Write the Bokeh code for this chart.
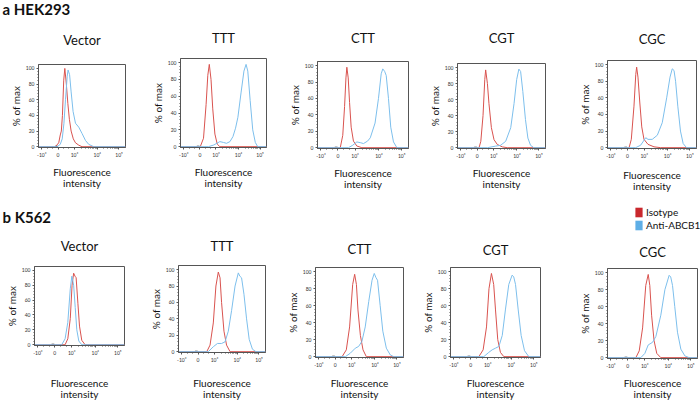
import math
from bokeh.plotting import figure
from bokeh.models import FixedTicker, Legend, LegendItem, Range1d, Title, Label
from bokeh.layouts import row, column
from bokeh.embed import file_html
from bokeh.resources import INLINE

# ---------------- data (x in display units of the biexponential axis) ----------------
samples = ["Vector", "TTT", "CTT", "CGT", "CGC"]
x_tick_pos = [-0.75, 0, 0.75, 1.8, 2.8]
x_tick_labels = ["-10³", "0", "10³", "10⁴", "10⁵"]
y_tick_pos = [0, 20, 40, 60, 80, 100]
pile_x = [-0.14, -0.02]          # events piled up at zero
pile_y = [0, 0]

# HEK293
hek_vector_iso_x = [-0.9, -0.12, 0.03, 0.1, 0.15, 0.2, 0.26, 0.31, 0.38, 0.45, 0.52, 0.6, 0.7, 0.8, 0.95, 1.1, 3.1]
hek_vector_iso_y = [0, 0, 5, 15, 20, 40, 85, 100, 80, 55, 35, 20, 10, 5, 2, 0, 0]
hek_vector_ab_x = [-0.9, -0.04, 0.1, 0.19, 0.27, 0.34, 0.42, 0.46, 0.53, 0.6, 0.69, 0.8, 0.95, 1.1, 1.26, 1.41, 1.64, 3.1]
hek_vector_ab_y = [0, 0, 3, 10, 30, 60, 90, 98, 92, 70, 45, 30, 25, 17, 8, 3, 0, 0]

hek_ttt_iso_x = [-0.9, 0.02, 0.17, 0.29, 0.37, 0.44, 0.52, 0.6, 0.7, 0.81, 0.93, 3.1]
hek_ttt_iso_y = [0, 0, 10, 50, 85, 98, 80, 45, 15, 3, 0, 0]
hek_ttt_ab_x = [-0.9, 0.4, 0.65, 0.93, 1.1, 1.24, 1.4, 1.54, 1.66, 1.77, 1.92, 2.05, 2.15, 2.23, 2.34, 2.46, 2.58, 2.69, 3.1]
hek_ttt_ab_y = [0, 0, 2, 6, 5, 4, 6, 12, 22, 35, 65, 90, 98, 90, 55, 20, 5, 0, 0]

hek_ctt_iso_x = [-0.9, 0.1, 0.21, 0.29, 0.35, 0.39, 0.45, 0.51, 0.58, 0.68, 0.83, 1.05, 3.1]
hek_ctt_iso_y = [0, 0, 15, 50, 85, 98, 85, 55, 25, 8, 2, 0, 0]
hek_ctt_ab_x = [-0.9, 0.46, 0.65, 0.83, 1.0, 1.12, 1.3, 1.42, 1.63, 1.78, 1.9, 1.97, 2.05, 2.12, 2.22, 2.32, 2.44, 2.59, 3.1]
hek_ctt_ab_y = [0, 0, 3, 7, 6, 5, 8, 12, 30, 60, 90, 96, 93, 88, 60, 25, 7, 0, 0]

hek_cgt_iso_x = [-0.9, 0.08, 0.16, 0.26, 0.34, 0.38, 0.46, 0.53, 0.64, 0.76, 0.91, 1.14, 1.36, 3.1]
hek_cgt_iso_y = [0, 0, 8, 40, 85, 97, 80, 55, 25, 10, 4, 1, 0, 0]
hek_cgt_ab_x = [-0.9, 0.46, 0.84, 1.06, 1.29, 1.52, 1.67, 1.79, 1.89, 1.97, 2.07, 2.19, 2.3, 2.42, 2.57, 3.1]
hek_cgt_ab_y = [0, 0, 2, 3, 8, 25, 55, 85, 98, 95, 70, 35, 12, 3, 0, 0]

hek_cgc_iso_x = [-0.9, 0.07, 0.17, 0.29, 0.37, 0.41, 0.47, 0.55, 0.64, 0.74, 0.92, 1.19, 1.49, 3.1]
hek_cgc_iso_y = [0, 0, 10, 50, 88, 97, 85, 55, 25, 10, 4, 1, 0, 0]
hek_cgc_ab_x = [-0.9, 0.37, 0.59, 0.82, 0.92, 1.11, 1.34, 1.56, 1.76, 1.91, 2.01, 2.09, 2.16, 2.26, 2.38, 2.5, 2.65, 3.1]
hek_cgc_ab_y = [0, 0, 3, 12, 10, 10, 15, 30, 60, 85, 95, 93, 80, 50, 20, 5, 0, 0]

# K562
k562_vector_iso_x = [-0.9, 0.46, 0.58, 0.69, 0.77, 0.84, 0.9, 0.95, 1.03, 1.1, 1.2, 1.35, 3.1]
k562_vector_iso_y = [0, 0, 8, 35, 80, 96, 92, 90, 55, 25, 6, 0, 0]
k562_vector_ab_x = [-0.9, 0.31, 0.46, 0.58, 0.69, 0.76, 0.84, 0.91, 0.98, 1.07, 1.2, 3.1]
k562_vector_ab_y = [0, 0, 8, 30, 75, 92, 80, 50, 20, 5, 0, 0]

k562_ttt_iso_x = [-0.9, 0.4, 0.55, 0.7, 0.82, 0.93, 1.01, 1.08, 1.19, 1.31, 1.47, 3.1]
k562_ttt_iso_y = [0, 0, 8, 35, 80, 97, 90, 60, 25, 8, 0, 0]
k562_ttt_ab_x = [-0.9, 0.47, 0.7, 0.89, 1.08, 1.24, 1.39, 1.54, 1.7, 1.85, 1.92, 2.0, 2.11, 2.23, 2.35, 2.5, 2.66, 3.1]
k562_ttt_ab_y = [0, 0, 6, 10, 10, 12, 25, 50, 80, 96, 92, 90, 70, 40, 15, 3, 0, 0]

k562_ctt_iso_x = [-0.9, 0.31, 0.5, 0.65, 0.79, 0.88, 0.96, 1.03, 1.14, 1.26, 1.41, 3.1]
k562_ctt_iso_y = [0, 0, 8, 35, 85, 97, 85, 55, 25, 8, 0, 0]
k562_ctt_ab_x = [-0.9, 0.46, 0.68, 0.91, 1.06, 1.21, 1.36, 1.52, 1.67, 1.77, 1.85, 1.92, 2.04, 2.16, 2.32, 2.5, 2.65, 3.1]
k562_ctt_ab_y = [0, 0, 4, 10, 12, 18, 35, 65, 90, 98, 93, 90, 60, 30, 10, 2, 0, 0]

k562_cgt_iso_x = [-0.9, 0.36, 0.55, 0.7, 0.81, 0.92, 1.02, 1.1, 1.2, 1.32, 1.47, 3.1]
k562_cgt_iso_y = [0, 0, 8, 35, 80, 98, 85, 55, 20, 5, 0, 0]
k562_cgt_ab_x = [-0.9, 0.58, 0.8, 0.95, 1.1, 1.25, 1.4, 1.54, 1.69, 1.84, 1.91, 1.99, 2.11, 2.24, 2.39, 2.58, 3.1]
k562_cgt_ab_y = [0, 0, 5, 8, 10, 12, 25, 55, 85, 96, 94, 85, 55, 25, 7, 0, 0]

k562_cgc_iso_x = [-0.9, 0.36, 0.51, 0.66, 0.8, 0.91, 0.98, 1.06, 1.17, 1.29, 1.47, 3.1]
k562_cgc_iso_y = [0, 0, 8, 35, 85, 98, 85, 50, 20, 5, 0, 0]
k562_cgc_ab_x = [-0.9, 0.58, 0.76, 0.91, 1.1, 1.25, 1.47, 1.65, 1.84, 1.91, 1.99, 2.09, 2.21, 2.36, 2.54, 2.73, 3.1]
k562_cgc_ab_y = [0, 0, 5, 15, 18, 25, 50, 80, 97, 95, 85, 60, 30, 10, 2, 0, 0]

hek_curves = [
    (hek_vector_iso_x, hek_vector_iso_y, hek_vector_ab_x, hek_vector_ab_y),
    (hek_ttt_iso_x, hek_ttt_iso_y, hek_ttt_ab_x, hek_ttt_ab_y),
    (hek_ctt_iso_x, hek_ctt_iso_y, hek_ctt_ab_x, hek_ctt_ab_y),
    (hek_cgt_iso_x, hek_cgt_iso_y, hek_cgt_ab_x, hek_cgt_ab_y),
    (hek_cgc_iso_x, hek_cgc_iso_y, hek_cgc_ab_x, hek_cgc_ab_y),
]
k562_curves = [
    (k562_vector_iso_x, k562_vector_iso_y, k562_vector_ab_x, k562_vector_ab_y),
    (k562_ttt_iso_x, k562_ttt_iso_y, k562_ttt_ab_x, k562_ttt_ab_y),
    (k562_ctt_iso_x, k562_ctt_iso_y, k562_ctt_ab_x, k562_ctt_ab_y),
    (k562_cgt_iso_x, k562_cgt_iso_y, k562_cgt_ab_x, k562_cgt_ab_y),
    (k562_cgc_iso_x, k562_cgc_iso_y, k562_cgc_ab_x, k562_cgc_ab_y),
]
legend_labels = ["Isotype", "Anti-ABCB1"]

# ---------------- styling / layout (page pixels) ----------------
FONT = "Lato"
RED = "#d9534f"
BLUE = "#7dbfec"
LEG_RED = "#c9282d"
LEG_BLUE = "#5eaee6"
FRAME = "#555555"
TITLE_PX = 13
HEAD_PX = 15

# (fig_left, fig_right, fig_top, fig_bottom, frame_left, frame_right, frame_top, frame_bottom, title_y, xlabel_standoff)
row_a_layout = [
    (0, 140, 0, 195, 38, 125, 62, 147, 38, 5),
    (140, 280, 0, 195, 180, 266, 58, 147, 38, 5),
    (280, 420, 0, 195, 317, 408, 61, 148, 38, 5),
    (420, 560, 0, 195, 457, 545, 63, 148, 38, 5),
    (560, 700, 0, 195, 607, 696, 60, 148, 39, 7),
]
row_b_layout = [
    (0, 140, 224, 402, 34, 124, 265, 345, 245, 18),
    (140, 280, 195, 402, 178, 265, 265, 352, 246, 11),
    (280, 415, 195, 402, 315, 403, 267, 357, 249, 6),
    (415, 560, 195, 402, 450, 540, 267, 357, 250, 6),
    (560, 700, 232, 402, 607, 697, 268, 358, 252, 5),
]
header_b_box = (0, 140, 195, 224)      # cell above the first K562 panel
legend_box = (560, 700, 195, 232)      # cell above the last K562 panel
legend_frame_left, legend_frame_top = 634, 206

x_minor = []
for k in range(2, 10):
    x_minor.append(0.75 + 1.05 * math.log10(k))
    x_minor.append(1.8 + 1.0 * math.log10(k))
x_minor += [-0.5, -0.25, 0.25, 0.5]
y_minor = [v for v in range(0, 101, 4) if v % 20]


def title_standoff(frame_top, title_y):
    return 2 * (frame_top - title_y) - 1.2 * TITLE_PX


def make_panel(name, curves, lay):
    fl_, fr_, ft_, fb_, xl, xr, yt, yb, ty, xls = lay
    iso_x, iso_y, ab_x, ab_y = curves
    p = figure(width=fr_ - fl_, height=fb_ - ft_,
               x_range=Range1d(-0.9, 3.1), y_range=Range1d(-1, 105),
               output_backend="svg", toolbar_location=None, title=None,
               min_border_left=xl - fl_, min_border_right=fr_ - xr,
               min_border_top=yt - ft_, min_border_bottom=fb_ - yb)
    p.frame_align = False
    p.grid.visible = False
    p.outline_line_color = FRAME
    p.outline_line_width = 1

    p.add_layout(Title(text=name, align="center", vertical_align="bottom",
                       standoff=title_standoff(yt, ty), text_font=FONT,
                       text_font_size=f"{TITLE_PX}px", text_font_style="normal",
                       text_color="#111111"), "above")

    xa = p.xaxis[0]
    xa.ticker = FixedTicker(ticks=x_tick_pos, minor_ticks=x_minor)
    xa.major_label_overrides = dict(zip(x_tick_pos, x_tick_labels))
    xa.major_label_text_font_size = "5px"
    xa.major_label_standoff = 2
    xa.axis_label = "Fluorescence\nintensity"
    xa.axis_label_text_font = FONT
    xa.axis_label_text_font_size = "10px"
    xa.axis_label_text_font_style = "normal"
    xa.axis_label_text_color = "#111111"
    xa.axis_label_text_line_height = 0.92
    xa.axis_label_standoff = xls

    ya = p.yaxis[0]
    ya.ticker = FixedTicker(ticks=y_tick_pos, minor_ticks=y_minor)
    ya.axis_label = "% of max"
    ya.axis_label_text_font = FONT
    ya.axis_label_text_font_size = "10px"
    ya.axis_label_text_font_style = "normal"
    ya.axis_label_text_color = "#111111"
    ya.axis_label_standoff = 1
    ya.major_label_text_font_size = "5px"
    ya.major_label_standoff = 2

    for ax in (xa, ya):
        ax.axis_line_color = FRAME
        ax.major_tick_line_color = FRAME
        ax.minor_tick_line_color = FRAME
        ax.major_tick_out = 2
        ax.major_tick_in = 0
        ax.minor_tick_out = 1
        ax.minor_tick_in = 0
        ax.major_label_text_color = "#333333"
        ax.major_label_text_font = FONT

    p.line(pile_x, pile_y, line_color="#222222", line_width=2)
    p.line(iso_x, iso_y, line_color=RED, line_width=1)
    p.line(ab_x, ab_y, line_color=BLUE, line_width=1)
    return p


def blank_cell(box, left=0, top=0):
    x0, x1, y0, y1 = box
    p = figure(width=x1 - x0, height=y1 - y0, x_range=Range1d(0, 1), y_range=Range1d(0, 1),
               x_axis_type=None, y_axis_type=None, output_backend="svg",
               toolbar_location=None, title=None, min_border=0,
               min_border_left=left, min_border_top=top)
    p.frame_align = False
    p.grid.visible = False
    p.outline_line_color = None
    return p


row_a_figs = [make_panel(samples[i], hek_curves[i], row_a_layout[i]) for i in range(5)]
row_b_figs = [make_panel(samples[i], k562_curves[i], row_b_layout[i]) for i in range(5)]

# header "a HEK293": outer title above the first HEK293 panel
la = row_a_layout[0]
slot_bottom = la[6] - (2 + 1.2 * TITLE_PX + title_standoff(la[6], la[8]))
row_a_figs[0].add_layout(Title(text="a HEK293", align="left", vertical_align="bottom",
                               offset=2 - la[4], standoff=2 * (slot_bottom - 6 - 0.6 * HEAD_PX),
                               text_font=FONT, text_font_size=f"{HEAD_PX}px",
                               text_font_style="bold", text_color="#111111"), "above")

# header "b K562" in its own cell
hb = blank_cell(header_b_box)
hb.add_layout(Label(x=2, y=header_b_box[3] - 216, x_units="screen", y_units="screen",
                    text="b K562", text_font=FONT, text_font_size=f"{HEAD_PX}px",
                    text_font_style="bold", text_align="left", text_baseline="middle",
                    text_color="#111111"))

# legend in its own cell (proxy swatches carry no visible data)
lg = blank_cell(legend_box, left=legend_frame_left - legend_box[0],
                top=legend_frame_top - legend_box[2])
nan = float("nan")
r_iso = lg.quad(left=[nan], right=[nan], top=[nan], bottom=[nan], fill_color=LEG_RED, line_color=None)
r_ab = lg.quad(left=[nan], right=[nan], top=[nan], bottom=[nan], fill_color=LEG_BLUE, line_color=None)
legend = Legend(items=[LegendItem(label=legend_labels[0], renderers=[r_iso]),
                       LegendItem(label=legend_labels[1], renderers=[r_ab])],
                location="top_left", orientation="vertical",
                glyph_width=9, glyph_height=12, label_height=12, spacing=1,
                padding=0, margin=0, border_line_color=None, background_fill_alpha=0,
                label_text_font=FONT, label_text_font_size="10px", label_standoff=3,
                label_text_color="#111111")
lg.add_layout(legend, "center")

row_b = row(column(hb, row_b_figs[0]), row_b_figs[1], row_b_figs[2], row_b_figs[3],
            column(lg, row_b_figs[4]))
layout = column(row(*row_a_figs), row_b)

open("out.html", "w").write(file_html(layout, INLINE))
